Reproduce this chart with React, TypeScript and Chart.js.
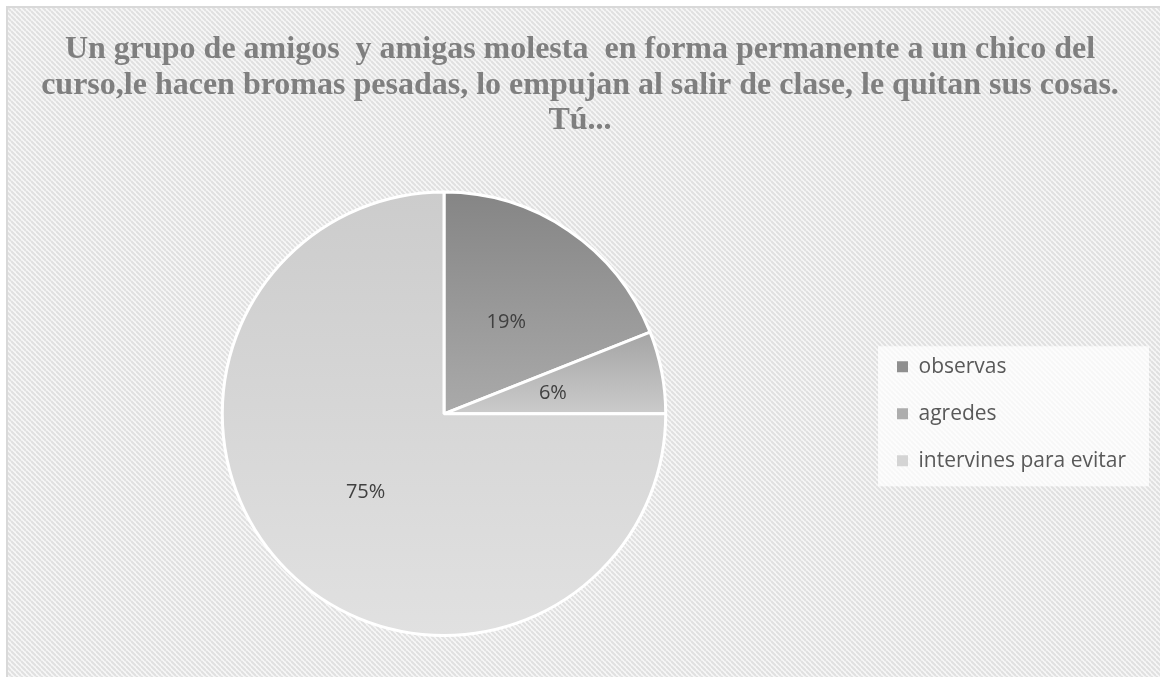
import React, { useEffect, useRef } from 'react';
import { Chart, registerables } from 'chart.js';

Chart.register(...registerables);

const categories = ['observas', 'agredes', 'intervines para evitar'];
const values = [19, 6, 75];
const percentLabels = ['19%', '6%', '75%'];
const titleLines = [
  'Un grupo de amigos  y amigas molesta  en forma permanente a un chico del',
  'curso,le hacen bromas pesadas, lo empujan al salir de clase, le quitan sus cosas.',
  'Tú...',
];
const sliceTop = ['#858585', '#a4a4a4', '#cccccc'];
const sliceBottom = ['#aaaaaa', '#cbcbcb', '#e1e1e1'];
const legendColors = ['#8f8f8f', '#adadad', '#d4d4d4'];

const LEGEND_WIDTH = 272;

function sliceGradient(ctx: any) {
  const chart = ctx.chart;
  const i = ctx.dataIndex;
  const area = chart.chartArea;
  if (!area || i === undefined) return legendColors[i ?? 0];
  const cx = (area.left + area.right) / 2;
  const cy = (area.top + area.bottom) / 2;
  const r = Math.min(area.width, area.height) / 2;
  const total = values.reduce((a, b) => a + b, 0);
  const start = (values.slice(0, i).reduce((a, b) => a + b, 0) / total) * 2 * Math.PI - Math.PI / 2;
  const end = start + (values[i] / total) * 2 * Math.PI;
  let ymin = cy;
  let ymax = cy;
  for (let k = 0; k <= 90; k++) {
    const a = start + ((end - start) * k) / 90;
    const y = cy + r * Math.sin(a);
    ymin = Math.min(ymin, y);
    ymax = Math.max(ymax, y);
  }
  const g = chart.ctx.createLinearGradient(0, ymin, 0, ymax);
  g.addColorStop(0, sliceTop[i]);
  g.addColorStop(1, sliceBottom[i]);
  return g;
}

let patternCache: CanvasPattern | null = null;
function getPattern(ctx: CanvasRenderingContext2D) {
  if (patternCache) return patternCache;
  const t = document.createElement('canvas');
  const s = 5;
  t.width = s;
  t.height = s;
  const c = t.getContext('2d')!;
  c.fillStyle = '#f7f7f7';
  c.fillRect(0, 0, s, s);
  c.strokeStyle = '#e0e0e0';
  c.lineWidth = 2;
  for (let k = -1; k <= 1; k++) {
    c.beginPath();
    c.moveTo(0, s * k);
    c.lineTo(s, s + s * k);
    c.stroke();
  }
  patternCache = ctx.createPattern(t, 'repeat');
  return patternCache;
}

const legendWidthPlugin = {
  id: 'legendWidth',
  afterInit(chart: any) {
    const lg = chart.legend;
    if (!lg || lg.__patched) return;
    const orig = lg.fit.bind(lg);
    lg.fit = function () {
      orig();
      this.width = LEGEND_WIDTH;
    };
    lg.__patched = true;
  },
};

const backgroundPlugin = {
  id: 'bgPattern',
  beforeDraw(chart: any) {
    const { ctx, width, height } = chart;
    ctx.save();
    ctx.fillStyle = getPattern(ctx) as any;
    ctx.fillRect(0, 0, width, height);
    ctx.fillStyle = '#d9d9d9';
    ctx.fillRect(0, 0, width, 2);
    ctx.fillRect(0, 0, 2, height);
    const lg = chart.legend;
    if (lg && lg.legendHitBoxes && lg.legendHitBoxes.length) {
      const hb = lg.legendHitBoxes;
      const left = Math.min(...hb.map((h: any) => h.left)) - 19;
      const top = Math.min(...hb.map((h: any) => h.top)) - 10;
      const right = Math.max(...hb.map((h: any) => h.left + h.width)) + 23;
      const bottom = Math.max(...hb.map((h: any) => h.top + h.height)) + 15;
      ctx.fillStyle = 'rgba(255,255,255,0.75)';
      ctx.fillRect(left, top, right - left, bottom - top);
    }
    ctx.restore();
  },
};

const pieLabelPlugin = {
  id: 'pieLabels',
  afterDatasetsDraw(chart: any) {
    const meta = chart.getDatasetMeta(0);
    const ctx = chart.ctx;
    ctx.save();
    ctx.font = '20px "Open Sans"';
    ctx.fillStyle = '#404040';
    ctx.textAlign = 'center';
    ctx.textBaseline = 'middle';
    meta.data.forEach((arc: any, i: number) => {
      const p = arc.getProps(['x', 'y', 'startAngle', 'endAngle', 'outerRadius'], true);
      const mid = (p.startAngle + p.endAngle) / 2;
      const d = p.outerRadius * 0.5;
      ctx.fillText(percentLabels[i], p.x + Math.cos(mid) * d, p.y + Math.sin(mid) * d);
    });
    ctx.restore();
  },
};

export default function App() {
  const ref = useRef<HTMLCanvasElement>(null);
  useEffect(() => {
    if (!ref.current) return;
    const chart = new Chart(ref.current, {
      type: 'pie',
      data: {
        labels: categories,
        datasets: [
          {
            data: values,
            backgroundColor: sliceGradient as any,
            borderColor: '#ffffff',
            borderWidth: 3,
          },
        ],
      },
      options: {
        animation: false,
        responsive: true,
        maintainAspectRatio: false,
        layout: { padding: { left: 11, right: 17, top: 0, bottom: 40 } },
        plugins: {
          title: {
            display: true,
            text: titleLines,
            color: '#7f7f7f',
            font: { family: '"Liberation Serif", "Times New Roman", serif', size: 32, weight: 'bold', lineHeight: 1.11 },
            padding: { top: 26, bottom: 52 },
          },
          legend: {
            position: 'right',
            fullSize: false,
            labels: {
              boxWidth: 11,
              boxHeight: 11,
              padding: 26,
              color: '#595959',
              font: { family: '"Open Sans"', size: 21 },
              generateLabels: (c: any) => {
                const items = (Chart as any).overrides.pie.plugins.legend.labels.generateLabels(c);
                return items.map((it: any, i: number) => ({
                  ...it,
                  fillStyle: legendColors[i],
                  strokeStyle: legendColors[i],
                  lineWidth: 0,
                }));
              },
            },
          },
          tooltip: { enabled: false },
        },
      },
      plugins: [legendWidthPlugin, backgroundPlugin, pieLabelPlugin],
    });
    return () => chart.destroy();
  }, []);
  return (
    <div style={{ position: 'absolute', left: 6, top: 6, width: 1154, height: 671 }}>
      <canvas ref={ref} />
    </div>
  );
}
